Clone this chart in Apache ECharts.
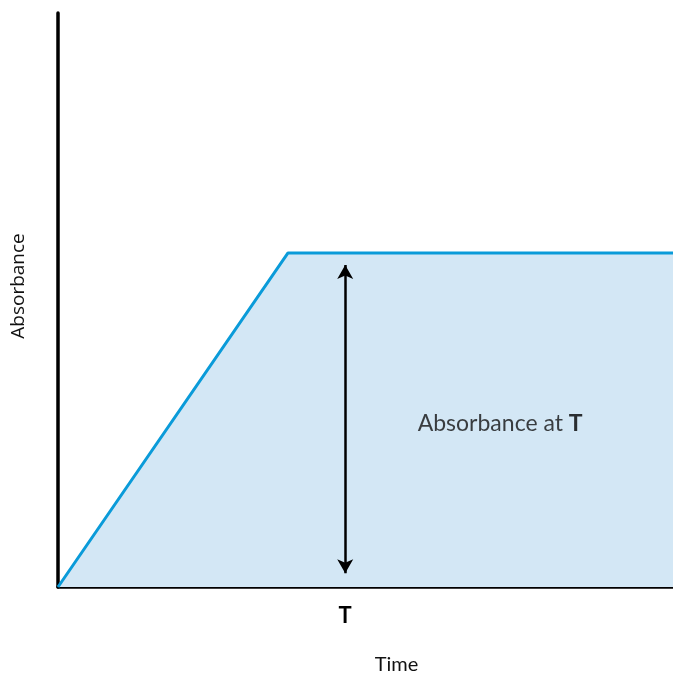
<!DOCTYPE html>
<html>
<head>
<meta charset="utf-8">
<script src="https://cdn.jsdelivr.net/npm/echarts@6/dist/echarts.min.js"></script>
<style>
  html, body { margin: 0; padding: 0; background: #fff; }
  #chart { width: 673px; height: 674px; }
</style>
</head>
<body>
<div id="chart"></div>
<script>
// curve: rise to plateau then flat
const curveX = [0, 37.4, 100]
const curveY = [0, 58.2, 58.2]
// arrow showing absorbance at T
const tValue = 46.7
const arrowY = [2.4, 56.1]
const xTickLabels = ['T']
// position of the annotation text
const notePos = [71.9, 28.4]

const chart = echarts.init(document.getElementById('chart'))

const option = {
  animation: false,
  grid: { left: 58, right: 0, top: 13, bottom: 87, outerBoundsMode: 'none', containLabel: false },
  xAxis: {
    type: 'value',
    min: 0,
    max: 100,
    name: 'Time',
    nameLocation: 'middle',
    nameGap: 68,
    nameTextStyle: { fontFamily: 'Lato', fontSize: 20, color: '#111', padding: [0, 0, 0, 62] },
    axisLine: { lineStyle: { color: '#000', width: 3.5 } },
    axisTick: { show: false },
    splitLine: { show: false },
    axisLabel: {
      customValues: [tValue],
      formatter: () => xTickLabels[0],
      margin: 18,
      fontFamily: 'Lato',
      fontSize: 22,
      fontWeight: 'bold',
      color: '#000'
    }
  },
  yAxis: {
    type: 'value',
    min: 0,
    max: 100,
    name: 'Absorbance',
    nameLocation: 'middle',
    nameGap: 30,
    nameTextStyle: { fontFamily: 'Open Sans', fontSize: 19, color: '#111', padding: [0, 0, 0, 28] },
    axisLine: { show: true, lineStyle: { color: '#000', width: 3.5 } },
    axisTick: { show: false },
    axisLabel: { show: false },
    splitLine: { show: false }
  },
  series: [
    {
      type: 'line',
      data: curveX.map((x, i) => [x, curveY[i]]),
      showSymbol: false,
      lineStyle: { color: '#0a9bd9', width: 3 },
      areaStyle: { color: '#d3e7f5', opacity: 1 },
      markLine: {
        silent: true,
        symbol: ['arrow', 'arrow'],
        symbolSize: [12, 14],
        label: { show: false },
        lineStyle: { color: '#000', width: 2.5, type: 'solid' },
        data: [[{ coord: [tValue, arrowY[0]] }, { coord: [tValue, arrowY[1]] }]]
      }
    },
    {
      type: 'scatter',
      data: [notePos],
      symbolSize: 1,
      itemStyle: { color: 'rgba(0,0,0,0)' },
      silent: true,
      z: 10,
      label: {
        show: true,
        position: 'inside',
        color: '#111',
        formatter: '{a|Absorbance at }{b|T}',
        rich: {
          a: { fontFamily: 'Lato', fontSize: 23, color: '#111' },
          b: { fontFamily: 'Lato', fontSize: 23, fontWeight: 'bold', color: '#000' }
        }
      }
    }
  ]
}

chart.setOption(option)
</script>
</body>
</html>
